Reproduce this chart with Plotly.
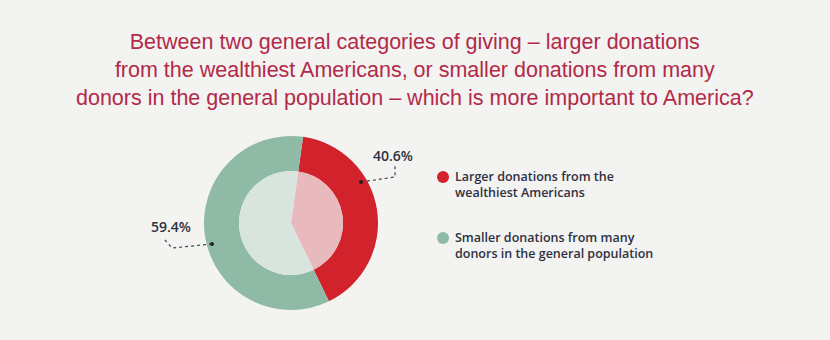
import plotly.graph_objects as go

labels = ["Larger donations from the<br>wealthiest Americans",
          "Smaller donations from many<br>donors in the general population"]
values = [40.6, 59.4]
outer_colors = ["#D2222B", "#8FBAA5"]
inner_colors = ["#E9BABD", "#D8E5DE"]
title_lines = ["Between two general categories of giving \u2013 larger donations",
               "from the wealthiest Americans, or smaller donations from many",
               "donors in the general population \u2013 which is more important to America?"]

W, H = 830, 340
BG = "#F3F3F2"
cx, cy, R, r = 291, 223, 87, 52

def px_x(x):
    return x / W

def px_y(y):
    return 1 - y / H

fig = go.Figure()
fig.add_trace(go.Pie(
    labels=labels, values=values, sort=False, direction="clockwise", rotation=8,
    hole=r / R, marker=dict(colors=outer_colors, line=dict(width=0)),
    textinfo="none", hoverinfo="label+percent", showlegend=False,
    domain=dict(x=[px_x(cx - R), px_x(cx + R)], y=[px_y(cy + R), px_y(cy - R)]),
))
fig.add_trace(go.Pie(
    labels=labels, values=values, sort=False, direction="clockwise", rotation=8,
    marker=dict(colors=inner_colors, line=dict(width=0)),
    textinfo="none", hoverinfo="label+percent", showlegend=False,
    domain=dict(x=[px_x(cx - r), px_x(cx + r)], y=[px_y(cy + r), px_y(cy - r)]),
))

shapes = []
annotations = []

# title
annotations.append(dict(
    text="<br>".join(title_lines), x=0.5, y=px_y(70), xref="paper", yref="paper",
    xanchor="center", yanchor="middle", showarrow=False, align="center",
    font=dict(family="Liberation Sans Narrow, Arial Narrow, Liberation Sans, sans-serif",
              size=21.5, color="#B22A48"),
))

# percentage labels with dotted leader lines
label_pos = [(393, 156), (171, 226)]
leaders = [[(361, 182), (395, 177), (395, 166)],
           [(212, 244), (172, 248), (163, 238)]]
for v, (lx, ly), pts in zip(values, label_pos, leaders):
    annotations.append(dict(
        text=f"{v:.1f}%", x=px_x(lx), y=px_y(ly), xref="paper", yref="paper",
        xanchor="center", yanchor="middle", showarrow=False,
        font=dict(family="Open Sans, sans-serif", size=14, color="#2E3140", weight=600),
    ))
    path = "M " + " L ".join(f"{px_x(x)},{px_y(y)}" for x, y in pts)
    shapes.append(dict(type="path", path=path, xref="paper", yref="paper",
                       line=dict(color="#444444", width=1.2, dash="dot")))
    dx, dy = pts[0]
    shapes.append(dict(type="circle", xref="paper", yref="paper",
                       x0=px_x(dx - 2), x1=px_x(dx + 2), y0=px_y(dy + 2), y1=px_y(dy - 2),
                       fillcolor="#222222", line=dict(width=0)))

# legend
legend_y = [184, 245]
for lab, col, ly in zip(labels, outer_colors, legend_y):
    shapes.append(dict(type="circle", xref="paper", yref="paper",
                       x0=px_x(437), x1=px_x(449), y0=px_y(ly - 1), y1=px_y(ly - 13),
                       fillcolor=col, line=dict(width=0)))
    annotations.append(dict(
        text=lab, x=px_x(453), y=px_y(ly), xref="paper", yref="paper",
        xanchor="left", yanchor="middle", showarrow=False, align="left",
        font=dict(family="Open Sans, sans-serif", size=12.5, color="#2E3140", weight=600),
    ))

fig.update_layout(
    width=W, height=H, margin=dict(l=0, r=0, t=0, b=0),
    paper_bgcolor=BG, plot_bgcolor=BG,
    shapes=shapes, annotations=annotations, showlegend=False,
)
fig.write_html("out.html")
